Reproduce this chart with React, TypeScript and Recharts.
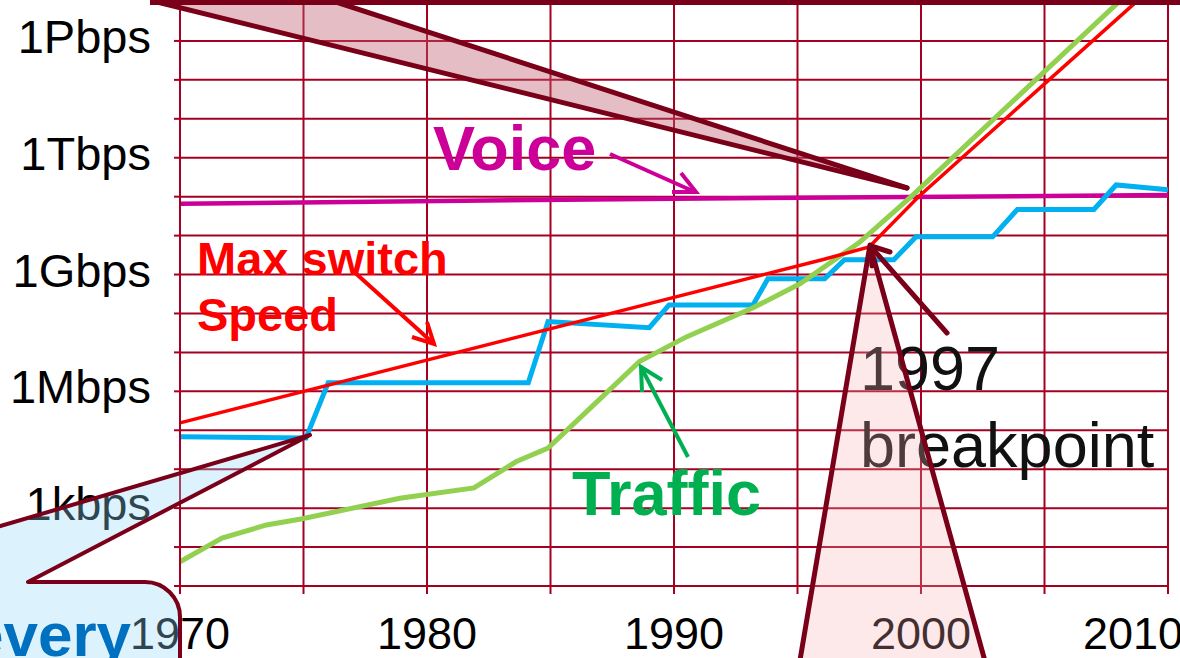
import { CartesianGrid, Line, LineChart, XAxis, YAxis } from "recharts";

const FONT = '"Liberation Sans", Arial, sans-serif';
const GRID = "#a50021";
const MAROON = "#7a0019";

// axis ticks
const yearTicks = [1970, 1975, 1980, 1985, 1990, 1995, 2000, 2005, 2010];
const yearLabels = [1970, 1980, 1990, 2000, 2010];
const rateTicks = [10, 100, 1e3, 1e4, 1e5, 1e6, 1e7, 1e8, 1e9, 1e10, 1e11, 1e12, 1e13, 1e14, 1e15, 1e16];
const rateLabels: Record<number, string> = {
  1e3: "1kbps",
  1e6: "1Mbps",
  1e9: "1Gbps",
  1e12: "1Tbps",
  1e15: "1Pbps",
};

// Voice (magenta)
const voiceYears = [1970, 1990, 2010];
const voiceBps = [6.6e10, 8.9e10, 1.1e11];

// Max switch speed (red)
const switchYears = [1970, 1996, 1997.9, 1999.9, 2008.6, 2010];
const switchBps = [1.55e5, 2.4e9, 5.1e9, 1e11, 8.7e15, 5.5e16];

// Traffic (green)
const trafficYears = [1970, 1971.7, 1973.5, 1974.9, 1978.9, 1981.9, 1983.6, 1984.9, 1988.6, 1990.5, 1993.2, 1995.1, 1997.5, 1999.6, 2007.9, 2010];
const trafficBps = [42, 170, 370, 525, 1.8e3, 3.3e3, 1.55e4, 3.5e4, 5.8e6, 2.5e7, 1.4e8, 5.8e8, 6.6e9, 1e11, 8.7e15, 1.6e17];

// link capacity (blue step line)
const linkYears = [1970, 1975.1, 1976, 1984.1, 1984.9, 1989, 1989.8, 1993.2, 1993.8, 1996.1, 1996.9, 1998.9, 1999.8, 2002.9, 2003.9, 2007, 2007.9, 2010];
const linkBps = [6.8e4, 6.3e4, 1.66e6, 1.66e6, 6.2e7, 4.3e7, 1.66e8, 1.66e8, 7.8e8, 7.8e8, 2.4e9, 2.4e9, 9.3e9, 9.3e9, 4.7e10, 4.7e10, 2.0e11, 1.5e11];

const toRows = (years: number[], bps: number[]) => years.map((year, i) => ({ year, bps: bps[i] }));

function XTick(props: any) {
  const { x, y, payload } = props;
  if (!yearLabels.includes(payload.value)) return <g />;
  // last label is pushed left so it stays (mostly) inside the frame, as in the slide
  const last = payload.value === yearLabels[yearLabels.length - 1];
  return (
    <text
      x={last ? x + 15 : x}
      y={y}
      dy={53}
      textAnchor={last ? "end" : "middle"}
      fontSize={45}
      fontFamily={FONT}
      fill="#000"
    >
      {payload.value}
    </text>
  );
}

function YTick(props: any) {
  const { x, y, payload } = props;
  const label = rateLabels[payload.value];
  if (!label) return <g />;
  return (
    <text x={x} y={y} dy={12} textAnchor="end" fontSize={47} fontFamily={FONT} fill="#000">
      {label}
    </text>
  );
}

function Overlay() {
  const line = { stroke: MAROON, strokeWidth: 5, strokeLinecap: "round" as const, strokeLinejoin: "round" as const };
  return (
    <svg width={1180} height={658} style={{ position: "absolute", left: 0, top: 0, pointerEvents: "none" }} fontFamily={FONT}>
      <text x={860} y={390} fontSize={63} fill="#111">1997</text>
      <text x={860} y={467} fontSize={63} fill="#111">breakpoint</text>

      {/* bottom pink callout */}
      <path d="M 798 672 L 870 245 L 988 672" fill="rgba(248,170,177,0.27)" {...line} />
      {/* 1997 arrow */}
      <line x1={947} y1={333} x2={872} y2={248} {...line} />
      <polyline points="890,252 871,246 872,266" fill="none" {...line} />

      {/* top pink callout */}
      <path d="M 153 1 L 907 188 L 333 1 Z" fill="rgba(190,90,110,0.4)" stroke="none" />
      <line x1={153} y1={1} x2={907} y2={188} {...line} />
      <line x1={333} y1={1} x2={907} y2={188} {...line} />
      <line x1={150} y1={2} x2={1185} y2={2} stroke={MAROON} strokeWidth={6} />

      {/* bottom-left blue callout */}
      <path
        d="M -190 582 L 310 435 L 28 582 L 145 582 A 35 35 0 0 1 180 617 L 180 680 L -190 680 Z"
        fill="rgba(147,216,250,0.32)"
        {...line}
        strokeWidth={4}
      />
      <text x={131} y={656} textAnchor="end" fontSize={62} fontWeight="bold" fill="#0070c0">every</text>

      {/* labels */}
      <text x={433} y={170} fontSize={63} fontWeight="bold" fill="#cc0099">Voice</text>
      <line x1={610} y1={154} x2={695} y2={192} stroke="#cc0099" strokeWidth={4} />
      <polyline points="681,173 696,192 672,192" fill="none" stroke="#cc0099" strokeWidth={4} />

      <text x={197} y={275} fontSize={47} fontWeight="bold" fill="#ff0000">Max switch</text>
      <text x={197} y={331} fontSize={47} fontWeight="bold" fill="#ff0000">Speed</text>
      <line x1={352} y1={270} x2={433} y2={343} stroke="#ff0000" strokeWidth={4} />
      <polyline points="412,337 434,344 427,322" fill="none" stroke="#ff0000" strokeWidth={4} />

      <text x={572} y={515} fontSize={63} fontWeight="bold" fill="#00b050">Traffic</text>
      <line x1={688} y1={457} x2={642} y2={369} stroke="#00b050" strokeWidth={4} />
      <polyline points="662,380 641,367 642,392" fill="none" stroke="#00b050" strokeWidth={4} />
    </svg>
  );
}

export default function App() {
  return (
    <div style={{ position: "absolute", left: 0, top: 0, width: 1180, height: 658, overflow: "hidden", background: "#fff" }}>
      <LineChart width={1180} height={658} margin={{ top: 2, right: 12, bottom: 0, left: 0 }}>
        <CartesianGrid stroke={GRID} strokeWidth={2} />
        <XAxis
          type="number"
          dataKey="year"
          domain={[1970, 2010]}
          ticks={yearTicks}
          interval={0}
          height={72}
          tickSize={8}
          tickMargin={2}
          tick={XTick}
          axisLine={{ stroke: GRID, strokeWidth: 2 }}
          tickLine={{ stroke: GRID, strokeWidth: 2 }}
        />
        <YAxis
          type="number"
          scale="log"
          domain={[10, 1e16]}
          allowDataOverflow
          ticks={rateTicks}
          interval={0}
          width={180}
          tickSize={6}
          tickMargin={23}
          tick={YTick}
          axisLine={{ stroke: GRID, strokeWidth: 2 }}
          tickLine={{ stroke: GRID, strokeWidth: 2 }}
        />
        <Line data={toRows(voiceYears, voiceBps)} dataKey="bps" stroke="#cc0099" strokeWidth={4.5} dot={false} isAnimationActive={false} />
        <Line data={toRows(linkYears, linkBps)} dataKey="bps" stroke="#00b0f0" strokeWidth={5} dot={false} isAnimationActive={false} />
        <Line data={toRows(trafficYears, trafficBps)} dataKey="bps" stroke="#92d050" strokeWidth={5} dot={false} isAnimationActive={false} />
        <Line data={toRows(switchYears, switchBps)} dataKey="bps" stroke="#ff0000" strokeWidth={3.5} dot={false} isAnimationActive={false} />
      </LineChart>
      <Overlay />
    </div>
  );
}
